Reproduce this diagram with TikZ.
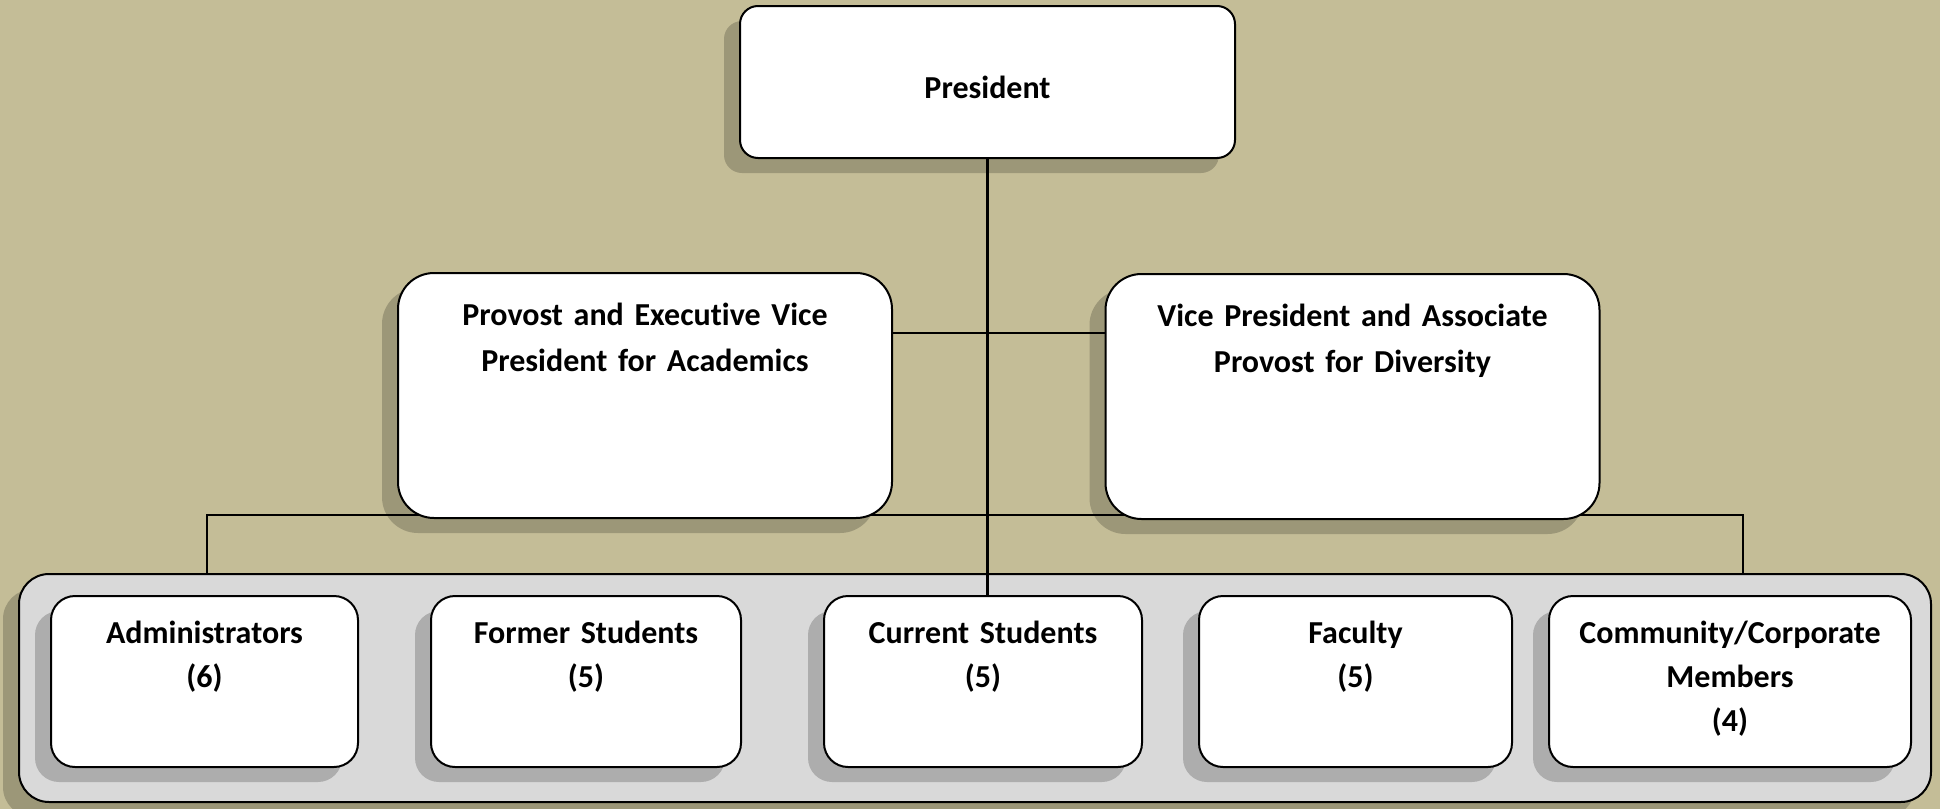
\documentclass[tikz,border=0pt]{standalone}
\usepackage{fontspec}
\setmainfont{Carlito}[Ligatures=NoCommon]
\usepackage{tikz}
\usetikzlibrary{positioning, shadows, backgrounds}

\definecolor{bgtan}{HTML}{C4BD97}
\definecolor{groupgrey}{HTML}{D9D9D9}

\tikzset{
  orgbox/.style={draw=black, line width=1pt, fill=white, inner sep=0pt,
    align=center, font=\fontsize{16}{23}\selectfont\bfseries,
    drop shadow={shadow xshift=-8pt, shadow yshift=-7.5pt,
      fill=black, opacity=0.2}},
  headbox/.style={orgbox, rounded corners=9pt, text height=16pt,
    text depth=0pt, minimum width=247.5pt, minimum height=76pt},
  vicebox/.style={orgbox, rounded corners=18pt, text width=247pt,
    text height=26pt, text depth=96.5pt},
  memberbox/.style={orgbox, rounded corners=12pt, text width=#1,
    font=\fontsize{16}{22}\selectfont\bfseries,
    text height=23.5pt, text depth=62pt},
  groupbox/.style={draw=black, line width=1pt, fill=groupgrey,
    rounded corners=15pt, minimum width=956pt, minimum height=114pt,
    drop shadow={shadow xshift=-8pt, shadow yshift=-7.5pt,
      fill=black, opacity=0.2}},
  link/.style={draw=black, line width=1.2pt}
}

\begin{document}
\begin{tikzpicture}[x=1pt, y=-1pt]
  \useasboundingbox (0,0) rectangle (970,404.5);

  % top of the chart
  \node[headbox] (pres) at (493.75,41) {President};
  \node[vicebox] (prov) at (322.5,197.75)
    {Provost and Executive Vice\\President for Academics};
  \node[vicebox] (vp) at (676.25,198.25)
    {Vice President and Associate\\Provost for Diversity};

  % council members
  \node[memberbox=153.5pt] (adm) at (102.25,340.75) {Administrators\\(6)};
  \node[memberbox=155pt] (former) at (293,340.75) {Former Students\\(5)};
  \node[memberbox=159pt] (cur) at (491.5,340.75) {Current Students\\(5)};
  \node[memberbox=156.5pt] (fac) at (677.75,340.75) {Faculty\\(5)};
  \node[memberbox=181pt] (comm) at (865,340.75)
    {Community/Corporate\\Members\\(4)};

  \begin{scope}[on background layer]
    \fill[bgtan] (0,0) rectangle (970,404.5);
    \node[groupbox] (group) at (487.5,344) {};

    \coordinate (midline) at (493.75,166.5);
    \coordinate (busleft) at (103.5,257.5);
    \coordinate (busright) at (871.5,257.5);

    \draw[link] (pres.south) -- (pres.south |- cur.north);
    \draw[link] (prov.east |- midline) -- (vp.west |- midline);
    \draw[link] (group.north -| busleft) -- (busleft)
      -- (busright) -- (group.north -| busright);
  \end{scope}
\end{tikzpicture}
\end{document}
